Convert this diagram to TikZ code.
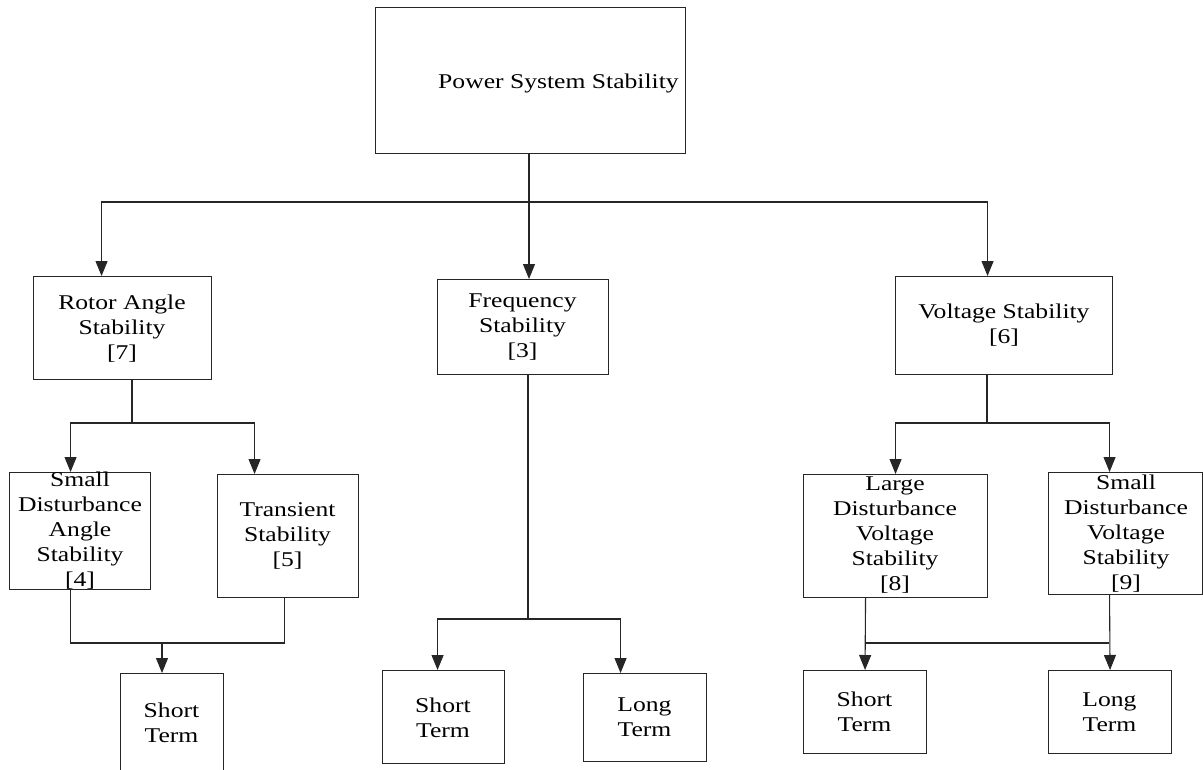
\documentclass[tikz,border=0pt]{standalone}
\usepackage{fontspec}
\setmainfont{Liberation Serif}[FakeStretch=1.22]
\usetikzlibrary{arrows.meta}
\tikzset{
  boxnode/.style={draw=black!85, line width=1.1pt, rectangle, inner sep=0pt, anchor=north west},
  txtnode/.style={align=center, inner sep=0pt, font=\fontsize{21}{25}\selectfont},
  conn/.style={draw=black!85, line width=1.1pt},
  arr/.style={conn, -{Triangle[length=15pt,width=12pt]}}
}
\begin{document}
\begin{tikzpicture}[x=1pt,y=-1pt]
\useasboundingbox (0,0) rectangle (1203,769);
\clip (0,0) rectangle (1203,769);
% boxes
\node[boxnode, minimum width=310pt, minimum height=146pt] (pss) at (375,7) {};
\node[boxnode, minimum width=178pt, minimum height=103pt] (rotor) at (33,276) {};
\node[boxnode, minimum width=171pt, minimum height=95pt] (freq) at (437,279) {};
\node[boxnode, minimum width=217pt, minimum height=98pt] (volt) at (895,276) {};
\node[boxnode, minimum width=141pt, minimum height=117pt] (sda) at (9,472) {};
\node[boxnode, minimum width=141pt, minimum height=123pt] (trans) at (217,474) {};
\node[boxnode, minimum width=103pt, minimum height=100pt] (stL) at (120,673) {};
\node[boxnode, minimum width=122pt, minimum height=93pt] (stM) at (382,670) {};
\node[boxnode, minimum width=123pt, minimum height=88pt] (ltM) at (583,673) {};
\node[boxnode, minimum width=184pt, minimum height=123pt] (ldv) at (803,474) {};
\node[boxnode, minimum width=154pt, minimum height=122pt] (sdv) at (1048,472) {};
\node[boxnode, minimum width=123pt, minimum height=83pt] (stR) at (803,670) {};
\node[boxnode, minimum width=123pt, minimum height=83pt] (ltR) at (1048,670) {};
% texts
\node[txtnode, anchor=base] (psst) at (558.5,88) {Power System Stability};
\node[txtnode] (rotort) at (122,329) {Rotor Angle\\Stability\\{[7]}};
\node[txtnode] (freqt) at (522.5,327.5) {Frequency\\Stability\\{[3]}};
\node[txtnode] (voltt) at (1004,325) {Voltage Stability\\{[6]}};
\node[txtnode] (sdat) at (80,530.5) {Small\\Disturbance\\Angle\\Stability\\{[4]}};
\node[txtnode] (transt) at (287.5,536) {Transient\\Stability\\{[5]}};
\node[txtnode] (stLt) at (171.5,722.5) {Short\\Term};
\node[txtnode] (stMt) at (443,717.5) {Short\\Term};
\node[txtnode] (ltMt) at (644.5,717) {Long\\Term};
\node[txtnode] (ldvt) at (895,535.5) {Large\\Disturbance\\Voltage\\Stability\\{[8]}};
\node[txtnode] (sdvt) at (1126,534) {Small\\Disturbance\\Voltage\\Stability\\{[9]}};
\node[txtnode] (stRt) at (864.5,712) {Short\\Term};
\node[txtnode] (ltRt) at (1109.5,712) {Long\\Term};
% connectors: top level
\coordinate (jTop) at (529,202);
\draw[conn] (pss.south -| jTop) -- (jTop);
\draw[arr] (jTop) -- (freq.north -| jTop);
\draw[arr] (jTop) -| ([xshift=-21pt]rotor.north);
\draw[arr] (jTop) -| ([xshift=-16.5pt]volt.north);
% rotor angle branch
\coordinate (jR) at (132,423);
\draw[conn] (rotor.south -| jR) -- (jR);
\draw[arr] (jR) -| ([xshift=-9.5pt]sda.north);
\draw[arr] (jR) -| ([xshift=-33.5pt]trans.north);
\coordinate (jRb) at (162,643);
\draw[conn] ([xshift=-9.5pt]sda.south) |- (jRb) -| ([xshift=-3.5pt]trans.south);
\draw[arr] (jRb) -- (stL.north -| jRb);
% frequency branch
\coordinate (jF) at (528,619);
\draw[conn] (freq.south -| jF) -- (jF);
\draw[arr] (jF) -| ([xshift=-6pt]stM.north);
\draw[arr] (jF) -| ([xshift=-24.5pt]ltM.north);
% voltage branch
\coordinate (jV) at (987,423);
\draw[conn] (volt.south -| jV) -- (jV);
\draw[arr] (jV) -| (ldv.north);
\draw[arr] (jV) -| ([xshift=-16pt]sdv.north);
\draw[arr] ([xshift=-30pt]ldv.south) -- (stR.north);
\draw[arr] ([xshift=-16pt]sdv.south) -- (ltR.north);
\coordinate (jVa) at (865,643);
\coordinate (jVb) at (1109,643);
\draw[conn] (jVa) -- (jVb);
\end{tikzpicture}
\end{document}
